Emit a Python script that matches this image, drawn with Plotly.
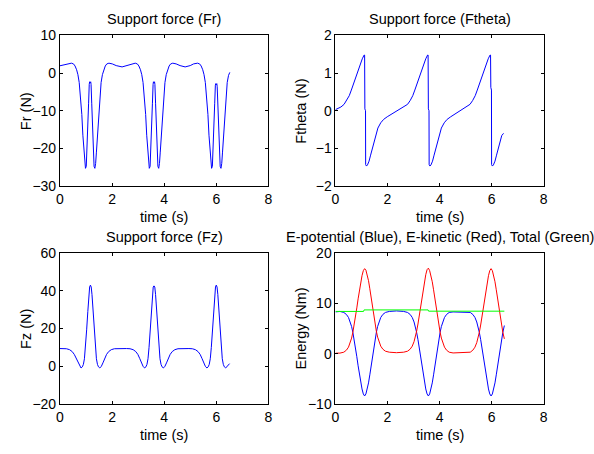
import plotly.graph_objects as go

# ---- radial support force Fr (N) ----
FR_T = [0.00, 0.15, 0.30, 0.44, 0.52, 0.58, 0.64, 0.69, 0.74, 0.79, 0.84, 0.88, 0.92, 0.95, 0.98,
        1.01, 1.04, 1.07, 1.10, 1.125, 1.14, 1.16, 1.18, 1.195, 1.22, 1.25, 1.28, 1.31, 1.34, 1.37,
        1.40, 1.44, 1.48, 1.53, 1.58, 1.63, 1.68, 1.74, 1.80, 1.88, 2.01, 2.16, 2.385, 2.59, 2.74,
        2.89, 2.97, 3.03, 3.09, 3.14, 3.19, 3.24, 3.29, 3.33, 3.37, 3.40, 3.43, 3.46, 3.49, 3.52,
        3.55, 3.575, 3.59, 3.61, 3.63, 3.645, 3.67, 3.70, 3.73, 3.76, 3.79, 3.82, 3.85, 3.89, 3.93,
        3.98, 4.03, 4.08, 4.13, 4.19, 4.25, 4.33, 4.46, 4.61, 4.805, 5.00, 5.13, 5.28, 5.36, 5.42,
        5.48, 5.53, 5.58, 5.63, 5.68, 5.72, 5.76, 5.79, 5.82, 5.85, 5.88, 5.91, 5.94, 5.965, 5.98,
        6.00, 6.02, 6.035, 6.06, 6.09, 6.12, 6.15, 6.18, 6.21, 6.24, 6.28, 6.32, 6.37, 6.42, 6.47,
        6.52]
FR_V = [1.95, 2.25, 2.55, 2.64, 2.45, 1.9, 0.9, -0.4, -2.5, -6.0, -11.0, -16.5, -21.0, -24.0, -25.3,
        -24.8, -20.5, -14.0, -8.0, -3.0, -2.3, -2.6, -2.3, -3.0, -8.0, -14.0, -20.5, -24.8, -25.3, -24.0,
        -21.0, -16.5, -11.0, -6.0, -2.5, -0.4, 0.9, 1.9, 2.45, 2.64, 2.45, 2.0, 1.65, 2.0, 2.45,
        2.64, 2.45, 1.9, 0.9, -0.4, -2.5, -6.0, -11.0, -16.5, -21.0, -24.0, -25.3, -24.8, -20.5, -14.0,
        -8.0, -3.0, -2.3, -2.6, -2.3, -3.0, -8.0, -14.0, -20.5, -24.8, -25.3, -24.0, -21.0, -16.5, -11.0,
        -6.0, -2.5, -0.4, 0.9, 1.9, 2.45, 2.64, 2.45, 2.0, 1.65, 2.0, 2.45, 2.64, 2.45, 1.9,
        0.9, -0.4, -2.5, -6.0, -11.0, -16.5, -21.0, -24.0, -25.3, -24.8, -20.5, -14.0, -8.0, -3.2, -2.8,
        -3.1, -2.8, -3.5, -8.0, -14.0, -20.5, -24.8, -25.3, -24.0, -21.0, -16.5, -11.0, -6.0, -2.5, -0.6,
        0.2]

# ---- tangential support force Ftheta (N) ----
FTH_T = [0.00, 0.08, 0.21, 0.33, 0.43, 0.53, 0.61, 0.70, 0.79, 0.87, 0.95, 1.03, 1.10, 1.12, 1.13,
         1.155, 1.16, 1.19, 1.23, 1.29, 1.35, 1.42, 1.49, 1.55, 1.63, 1.74, 1.85, 1.99, 2.13, 2.23,
         2.35, 2.52, 2.65, 2.77, 2.87, 2.97, 3.05, 3.14, 3.23, 3.31, 3.39, 3.47, 3.54, 3.56, 3.57,
         3.595, 3.60, 3.63, 3.67, 3.73, 3.79, 3.86, 3.93, 3.99, 4.07, 4.18, 4.29, 4.43, 4.57, 4.67,
         4.75, 4.92, 5.05, 5.17, 5.27, 5.37, 5.45, 5.54, 5.63, 5.71, 5.79, 5.87, 5.94, 5.96, 5.97,
         5.995, 6.00, 6.03, 6.07, 6.13, 6.19, 6.26, 6.33, 6.39, 6.46]
FTH_V = [0.03, 0.05, 0.10, 0.17, 0.27, 0.40, 0.55, 0.73, 0.93, 1.10, 1.25, 1.38, 1.48, 1.48, 0.05,
         0.0, -1.43, -1.47, -1.44, -1.34, -1.18, -1.0, -0.80, -0.62, -0.46, -0.32, -0.23, -0.16, -0.10, -0.06,
         -0.02, 0.05, 0.10, 0.17, 0.27, 0.40, 0.55, 0.73, 0.93, 1.10, 1.25, 1.38, 1.48, 1.48, 0.05,
         0.0, -1.43, -1.47, -1.44, -1.34, -1.18, -1.0, -0.80, -0.62, -0.46, -0.32, -0.23, -0.16, -0.10, -0.06,
         -0.02, 0.05, 0.10, 0.17, 0.27, 0.40, 0.55, 0.73, 0.93, 1.10, 1.25, 1.38, 1.48, 1.48, 0.62,
         0.55, -1.43, -1.47, -1.44, -1.34, -1.18, -1.0, -0.80, -0.66, -0.60]

# ---- vertical support force Fz (N) ----
FZ_T = [0.00, 0.12, 0.25, 0.37, 0.47, 0.55, 0.62, 0.69, 0.75, 0.81, 0.86, 0.90, 0.94, 0.98, 1.025,
        1.07, 1.11, 1.14, 1.17, 1.20, 1.23, 1.27, 1.315, 1.36, 1.40, 1.44, 1.48, 1.53, 1.59, 1.65,
        1.72, 1.79, 1.87, 1.97, 2.09, 2.22, 2.56, 2.69, 2.81, 2.91, 2.99, 3.06, 3.13, 3.19, 3.25,
        3.30, 3.34, 3.38, 3.42, 3.465, 3.51, 3.55, 3.58, 3.61, 3.64, 3.67, 3.71, 3.755, 3.80, 3.84,
        3.88, 3.92, 3.97, 4.03, 4.09, 4.16, 4.23, 4.31, 4.41, 4.53, 4.66, 4.95, 5.08, 5.20, 5.30,
        5.38, 5.45, 5.52, 5.58, 5.64, 5.69, 5.73, 5.77, 5.81, 5.855, 5.90, 5.94, 5.97, 6.00, 6.03,
        6.06, 6.10, 6.145, 6.19, 6.23, 6.27, 6.31, 6.36, 6.42, 6.51]
FZ_V = [9.4, 9.4, 9.3, 8.8, 7.8, 6.3, 4.2, 1.8, 0.0, -0.9, -0.3, 1.0, 4.0, 10.0, 19.3,
        29.0, 38.0, 42.0, 43.0, 42.0, 38.0, 29.0, 19.3, 10.0, 4.0, 1.0, -0.3, -0.9, 0.0, 1.8,
        4.2, 6.3, 7.8, 8.8, 9.3, 9.4, 9.4, 9.3, 8.8, 7.8, 6.3, 4.2, 1.8, 0.0, -0.9,
        -0.3, 1.0, 4.0, 10.0, 19.3, 29.0, 38.0, 42.0, 42.6, 42.0, 38.0, 29.0, 19.3, 10.0, 4.0,
        1.0, -0.3, -0.9, 0.0, 1.8, 4.2, 6.3, 7.8, 8.8, 9.3, 9.4, 9.4, 9.3, 8.8, 7.8,
        6.3, 4.2, 1.8, 0.0, -0.9, -0.3, 1.0, 4.0, 10.0, 19.3, 29.0, 38.0, 42.0, 43.0, 42.0,
        38.0, 29.0, 19.3, 10.0, 4.0, 1.0, -0.3, -0.9, 0.0, 1.4]

# ---- energies (Nm) ----
E_T = [0.00, 0.17, 0.32, 0.42, 0.50, 0.57, 0.62, 0.67, 0.72, 0.77, 0.82, 0.87, 0.92, 0.97, 1.02,
       1.07, 1.12, 1.17, 1.22, 1.27, 1.32, 1.37, 1.42, 1.47, 1.52, 1.57, 1.62, 1.67, 1.74, 1.82,
       1.92, 2.07, 2.345,
       2.62, 2.77, 2.87, 2.95, 3.02, 3.07, 3.12, 3.17, 3.22, 3.27, 3.32, 3.37, 3.42, 3.47, 3.52,
       3.57, 3.62, 3.67, 3.72, 3.77, 3.82, 3.87, 3.92, 3.97, 4.02, 4.07, 4.12, 4.19, 4.27, 4.37,
       4.52, 4.775,
       5.03, 5.18, 5.28, 5.36, 5.43, 5.48, 5.53, 5.58, 5.63, 5.68, 5.73, 5.78, 5.83, 5.88, 5.93,
       5.98, 6.03, 6.08, 6.13, 6.18, 6.23, 6.28, 6.33, 6.38, 6.43, 6.49]
E_POT = [8.3, 8.4, 8.2, 7.8, 7.2, 6.3, 5.4, 4.2, 2.8, 1.2, -0.6, -2.4, -4.2, -5.8, -7.0,
         -8.0, -8.4, -8.0, -7.0, -5.8, -4.2, -2.4, -0.6, 1.2, 2.8, 4.2, 5.4, 6.3, 7.2, 7.8,
         8.2, 8.4, 8.5,
         8.4, 8.2, 7.8, 7.2, 6.3, 5.4, 4.2, 2.8, 1.2, -0.6, -2.4, -4.2, -5.8, -7.0, -8.0,
         -8.4, -8.0, -7.0, -5.8, -4.2, -2.4, -0.6, 1.2, 2.8, 4.2, 5.4, 6.3, 7.2, 7.8, 8.2,
         8.3, 8.3,
         8.3, 8.2, 7.8, 7.2, 6.3, 5.4, 4.2, 2.8, 1.2, -0.6, -2.4, -4.2, -5.8, -7.0, -8.0,
         -8.4, -8.0, -7.0, -5.8, -4.2, -2.4, -0.6, 1.2, 2.8, 4.2, 5.6]
E_KIN = [0.1, 0.12, 0.3, 0.7, 1.3, 2.2, 3.1, 4.3, 5.7, 7.3, 9.1, 10.9, 12.7, 14.3, 15.5,
         16.5, 16.9, 16.6, 15.7, 14.5, 12.9, 11.1, 9.3, 7.5, 5.9, 4.5, 3.3, 2.4, 1.5, 0.9,
         0.5, 0.3, 0.2,
         0.3, 0.5, 0.9, 1.5, 2.4, 3.3, 4.5, 5.9, 7.5, 9.3, 11.1, 12.9, 14.5, 15.7, 16.7,
         17.0, 16.5, 15.5, 14.3, 12.7, 10.9, 9.1, 7.3, 5.7, 4.3, 3.1, 2.2, 1.3, 0.7, 0.3,
         0.15, 0.15,
         0.15, 0.3, 0.7, 1.3, 2.2, 3.1, 4.3, 5.7, 7.3, 9.1, 10.9, 12.7, 14.3, 15.5, 16.5,
         16.9, 16.5, 15.5, 14.3, 12.7, 10.9, 9.1, 7.3, 5.7, 4.3, 2.95]
E_TOT_T = [0.00, 1.08, 1.10, 3.56, 3.58, 6.49]
E_TOT = [8.4, 8.4, 8.7, 8.7, 8.45, 8.45]

# ---- axis ticks ----
TIME_TICKS = [0, 2, 4, 6, 8]
FR_TICKS = [-30, -20, -10, 0, 10]
FTH_TICKS = [-2, -1, 0, 1, 2]
FZ_TICKS = [-20, 0, 20, 40, 60]
E_TICKS = [-10, 0, 10, 20]

TITLES = ["Support force (Fr)", "Support force (Ftheta)", "Support force (Fz)",
          "E-potential (Blue), E-kinetic (Red), Total (Green)"]
YLABELS = ["Fr (N)", "Ftheta (N)", "Fz (N)", "Energy (Nm)"]
XLABEL = "time (s)"

W, H = 594, 454
FONT = "Liberation Sans, Arial, sans-serif"
FS = 14      # tick labels
FS_TXT = 14.5  # titles and axis labels

# axes boxes in pixels: (left, right, top, bottom)
BOX_L = (56.7, 268.0)
BOX_R = (336.0, 547.0)
BOX_T = (28.5, 184.5)
BOX_B = (254.0, 410.5)


def xdom(b):
    return [b[0] / W, b[1] / W]


def ydom(b):
    return [1 - b[1] / H, 1 - b[0] / H]


def axis(domain, rng, ticks, anchor):
    return dict(domain=domain, range=rng, tickvals=ticks, anchor=anchor,
                showline=True, linecolor="black", linewidth=1, mirror="ticks",
                ticks="inside", ticklen=3, tickwidth=1, tickcolor="black",
                showgrid=False, zeroline=False, fixedrange=True,
                tickfont=dict(family=FONT, size=FS, color="black"))


blue = "rgb(0,0,255)"
red = "rgb(255,0,0)"
green = "rgb(0,255,0)"

fig = go.Figure()
fig.add_trace(go.Scatter(x=FR_T, y=FR_V, mode="lines", line=dict(color=blue, width=1),
                         xaxis="x", yaxis="y"))
fig.add_trace(go.Scatter(x=FTH_T, y=FTH_V, mode="lines", line=dict(color=blue, width=1),
                         xaxis="x2", yaxis="y2"))
fig.add_trace(go.Scatter(x=FZ_T, y=FZ_V, mode="lines", line=dict(color=blue, width=1),
                         xaxis="x3", yaxis="y3"))
fig.add_trace(go.Scatter(x=E_T, y=E_POT, mode="lines", line=dict(color=blue, width=1),
                         xaxis="x4", yaxis="y4"))
fig.add_trace(go.Scatter(x=E_T, y=E_KIN, mode="lines", line=dict(color=red, width=1),
                         xaxis="x4", yaxis="y4"))
fig.add_trace(go.Scatter(x=E_TOT_T, y=E_TOT, mode="lines", line=dict(color=green, width=1),
                         xaxis="x4", yaxis="y4"))

layout = dict(
    width=W, height=H, margin=dict(l=0, r=0, t=0, b=0),
    paper_bgcolor="white", plot_bgcolor="white", showlegend=False,
    font=dict(family=FONT, size=FS, color="black"),
    xaxis=axis(xdom(BOX_L), [0, 8], TIME_TICKS, "y"),
    yaxis=axis(ydom(BOX_T), [-30, 10], FR_TICKS, "x"),
    xaxis2=axis(xdom(BOX_R), [0, 8], TIME_TICKS, "y2"),
    yaxis2=axis(ydom(BOX_T), [-2, 2], FTH_TICKS, "x2"),
    xaxis3=axis(xdom(BOX_L), [0, 8], TIME_TICKS, "y3"),
    yaxis3=axis(ydom(BOX_B), [-20, 60], FZ_TICKS, "x3"),
    xaxis4=axis(xdom(BOX_R), [0, 8], TIME_TICKS, "y4"),
    yaxis4=axis(ydom(BOX_B), [-10, 20], E_TICKS, "x4"),
)

annotations = []
boxes = [(BOX_L, BOX_T), (BOX_R, BOX_T), (BOX_L, BOX_B), (BOX_R, BOX_B)]
for (bx, by), title, ylab in zip(boxes, TITLES, YLABELS):
    cx = (bx[0] + bx[1]) / 2 / W
    cy = 1 - (by[0] + by[1]) / 2 / H
    annotations.append(dict(text=title, x=cx, y=1 - (by[0] - 17) / H, xref="paper", yref="paper",
                            showarrow=False, xanchor="center", yanchor="middle",
                            font=dict(family=FONT, size=FS_TXT, color="black")))
    annotations.append(dict(text=XLABEL, x=cx, y=1 - (by[1] + 32) / H, xref="paper", yref="paper",
                            showarrow=False, xanchor="center", yanchor="middle",
                            font=dict(family=FONT, size=FS_TXT, color="black")))
    annotations.append(dict(text=ylab, x=(bx[0] - 35) / W, y=cy, xref="paper", yref="paper",
                            showarrow=False, textangle=-90, xanchor="center", yanchor="middle",
                            font=dict(family=FONT, size=FS_TXT, color="black")))
layout["annotations"] = annotations

fig.update_layout(**layout)
fig.write_html("out.html")
